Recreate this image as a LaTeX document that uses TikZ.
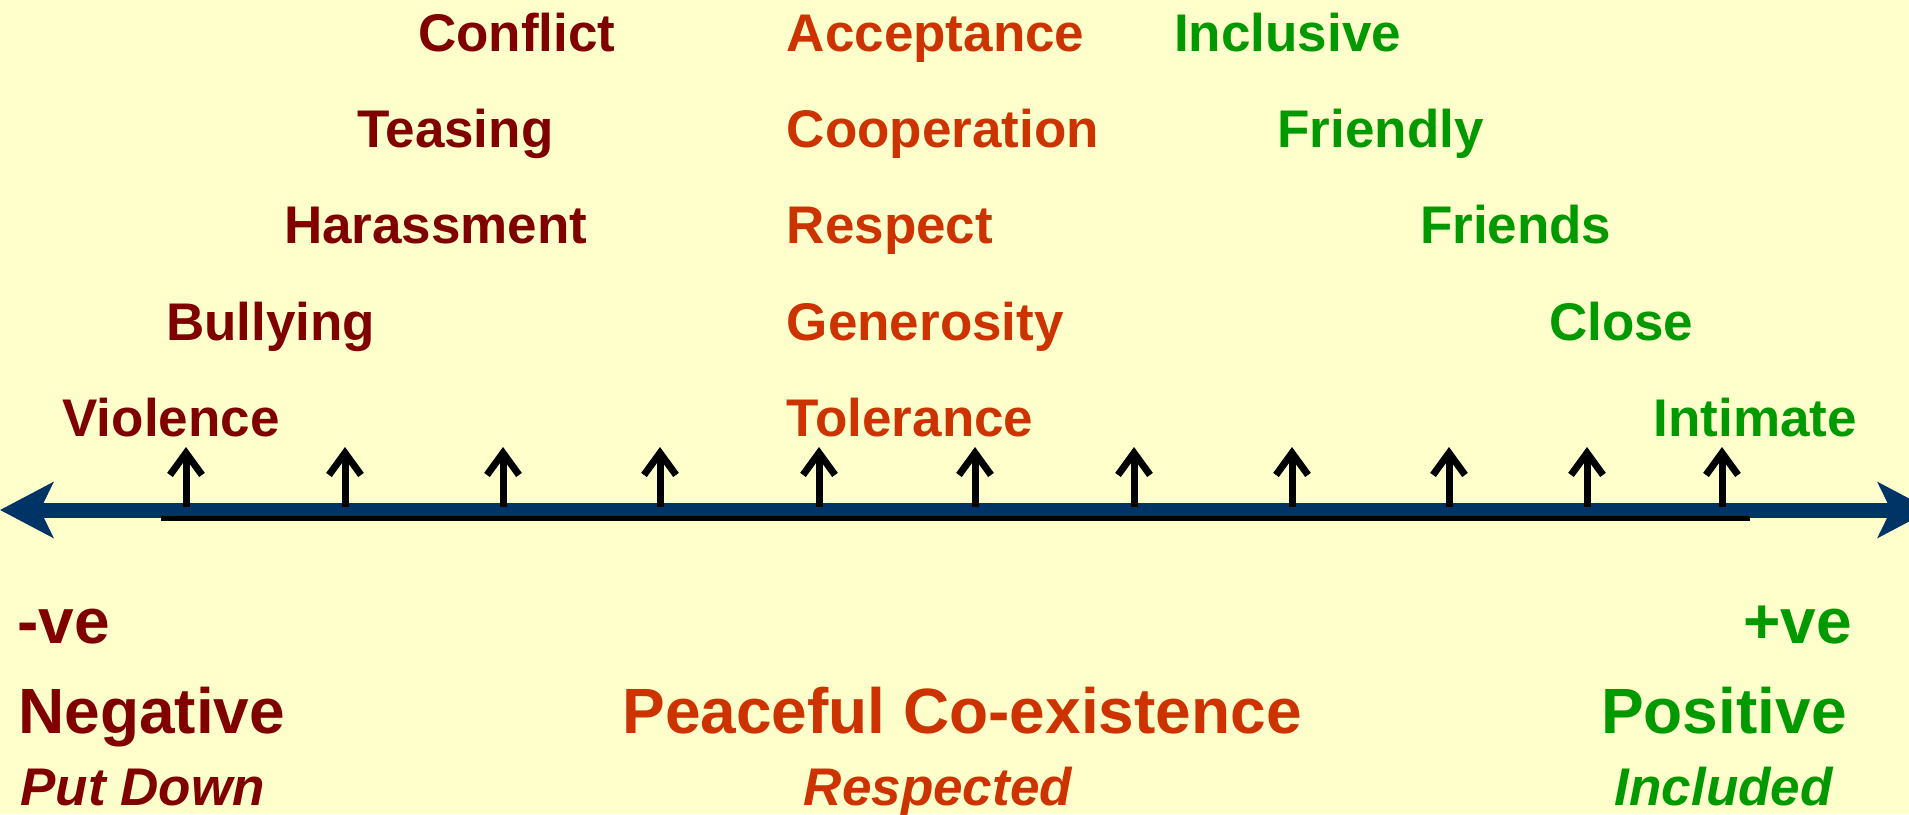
\documentclass[tikz,border=0pt]{standalone}
\usepackage{fontspec}
\setmainfont{Liberation Sans}
\usetikzlibrary{arrows.meta}

\definecolor{bgyellow}{HTML}{FFFFCC}
\definecolor{negred}{HTML}{800000}
\definecolor{midred}{HTML}{CC3300}
\definecolor{posgreen}{HTML}{009900}
\definecolor{axisblue}{HTML}{003366}

\begin{document}
\begin{tikzpicture}[x=0.5pt, y=-0.5pt,
    every node/.style={inner sep=0pt, font=\bfseries\fontsize{26.5}{30}\selectfont},
    big/.style={font=\bfseries\fontsize{32}{36}\selectfont},
    slant/.style={font=\bfseries\itshape\fontsize{26.5}{30}\selectfont},
    negword/.style={text=negred}, midword/.style={text=midred}, posword/.style={text=posgreen}]
  \fill[bgyellow] (0,0) rectangle (1909,814);
  \useasboundingbox (0,0) rectangle (1909,814);
  \clip (0,0) rectangle (1909,814);

  % scale line
  \coordinate (axisL) at (0,510);
  \coordinate (axisR) at (1931,510);
  \draw[axisblue, line width=7.5pt, {Stealth[length=26.5pt, width=27.5pt, inset=6.5pt]}-{Stealth[length=26.5pt, width=27.5pt, inset=6.5pt]}] (axisL) -- (axisR);
  \coordinate (baseL) at (161,518.5);
  \coordinate (baseR) at (1750,518.5);
  \draw[line width=2.3pt] (baseL) -- (baseR);
  \foreach \x [count=\i] in {186,345,503,660,819,975,1134,1292,1449,1587,1722} {
    \coordinate (tick\i) at (\x,507);
    \coordinate (tip\i) at (\x,447);
    \draw[line width=3.5pt, -{Straight Barb[length=11pt, width=16pt]}] (tick\i) -- (tip\i);
  }

  % negative side
  \node[negword, anchor=base west] (conflict) at (417.6,51) {Conflict};
  \node[negword, anchor=base west] (teasing) at (356.7,147) {Teasing};
  \node[negword, anchor=base west] (harass) at (283.7,243) {Harassment};
  \node[negword, anchor=base west] (bully) at (165.6,340) {Bullying};
  \node[negword, anchor=base west] (violence) at (62.1,436) {Violence};

  % middle
  \node[midword, anchor=base west] (accept) at (786.5,51) {Acceptance};
  \node[midword, anchor=base west] (coop) at (786.5,147) {Cooperation};
  \node[midword, anchor=base west] (respect) at (786.5,243) {Respect};
  \node[midword, anchor=base west] (generous) at (786.5,340) {Generosity};
  \node[midword, anchor=base west] (tolerance) at (786.5,436) {Tolerance};

  % positive side
  \node[posword, anchor=base west] (inclusive) at (1173.7,51) {Inclusive};
  \node[posword, anchor=base west] (friendly) at (1277,147) {Friendly};
  \node[posword, anchor=base west] (friends) at (1419.6,243) {Friends};
  \node[posword, anchor=base west] (close) at (1548.7,340) {Close};
  \node[posword, anchor=base west] (intimate) at (1653.4,436) {Intimate};

  % captions under the line
  \node[negword, big, anchor=base west] (minus) at (17,643) {-ve};
  \node[negword, big, anchor=base west] (negative) at (18,733) {Negative};
  \node[negword, slant, anchor=base west] (putdown) at (20,805) {Put Down};
  \node[midword, big, anchor=base west] (peace) at (622,733) {Peaceful Co-existence};
  \node[midword, slant, anchor=base west] (respected) at (803.5,805) {Respected};
  \node[posword, big, anchor=base east] (plus) at (1852,643) {+ve};
  \node[posword, big, anchor=base east] (positive) at (1847,733) {Positive};
  \node[posword, slant, anchor=base east] (included) at (1833,805) {Included};
\end{tikzpicture}
\end{document}
